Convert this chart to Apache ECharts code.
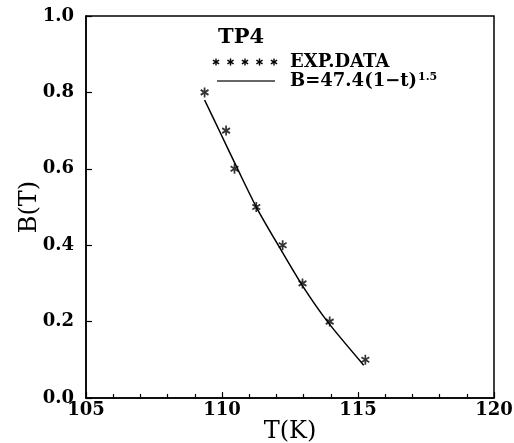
<!DOCTYPE html>
<html>
<head>
<meta charset="utf-8">
<title>TP4 B(T)</title>
<script src="https://cdn.jsdelivr.net/npm/echarts@6/dist/echarts.min.js"></script>
<style>
  html, body { margin: 0; padding: 0; background: #fff; }
  #chart { width: 514px; height: 443px; }
</style>
</head>
<body>
<div id="chart"></div>
<script>
// Experimental points: temperature (K) and field B (T)
const expT = [109.36, 110.15, 110.46, 111.26, 112.23, 112.96, 113.96, 115.27];
const expB = [0.80, 0.70, 0.60, 0.50, 0.40, 0.30, 0.20, 0.10];

// Fitted curve B = 47.4(1-t)^1.5, sampled along its trace
const fitT = [109.36, 109.92, 110.59, 111.29, 112.10, 112.95, 113.90, 115.21];
const fitB = [0.780, 0.697, 0.597, 0.496, 0.396, 0.295, 0.198, 0.086];

// Axis ranges and tick steps
const xRange = [105, 120];
const xStep = 5;
const yRange = [0, 1.0];
const yStep = 0.2;

const SERIF = '"DejaVu Serif", "Liberation Serif", serif';
const STAR = 'M0 -5 L0 5 M-4.33 -2.5 L4.33 2.5 M-4.33 2.5 L4.33 -2.5';

const chart = echarts.init(document.getElementById('chart'), null, { renderer: 'canvas' });

// five small asterisks used as the legend key for the data points
function starGlyph(cx, cy, r) {
  const dx = r * 0.866, dy = r * 0.5;
  const st = { stroke: '#000', lineWidth: 1.4 };
  return {
    type: 'group',
    silent: true,
    children: [
      { type: 'line', shape: { x1: cx, y1: cy - r, x2: cx, y2: cy + r }, style: st },
      { type: 'line', shape: { x1: cx - dx, y1: cy - dy, x2: cx + dx, y2: cy + dy }, style: st },
      { type: 'line', shape: { x1: cx - dx, y1: cy + dy, x2: cx + dx, y2: cy - dy }, style: st }
    ]
  };
}
const legendStars = [216, 230.5, 245, 259.5, 274].map(function (cx) { return starGlyph(cx, 62, 3.6); });

chart.setOption({
  backgroundColor: '#fff',
  animation: false,
  grid: {
    left: 86, right: 20, top: 16, bottom: 45,
    containLabel: false,
    outerBoundsMode: 'none',
    show: true, borderColor: '#000', borderWidth: 1.5, backgroundColor: 'transparent'
  },
  xAxis: {
    type: 'value',
    min: xRange[0], max: xRange[1], interval: xStep,
    name: 'T(K)',
    nameLocation: 'middle',
    nameGap: 22,
    nameMoveOverlap: false,
    nameTextStyle: { fontFamily: SERIF, fontSize: 24, color: '#000', verticalAlign: 'top' },
    axisLine: { show: true, lineStyle: { color: '#000', width: 1.5 } },
    axisTick: { show: true, inside: true, length: 6, lineStyle: { color: '#000', width: 1.2 } },
    minorTick: { show: true, splitNumber: 5, length: 4, lineStyle: { color: '#000', width: 1.2 } },
    splitLine: { show: false },
    axisLabel: { fontFamily: SERIF, fontWeight: 'bold', fontSize: 18, color: '#000', margin: 3 }
  },
  yAxis: {
    type: 'value',
    min: yRange[0], max: yRange[1], interval: yStep,
    name: 'B(T)',
    nameLocation: 'middle',
    nameGap: 44,
    nameMoveOverlap: false,
    nameTextStyle: { fontFamily: SERIF, fontSize: 24, color: '#000' },
    axisLine: { show: true, lineStyle: { color: '#000', width: 1.5 } },
    axisTick: { show: true, inside: true, length: 6, lineStyle: { color: '#000', width: 1.2 } },
    splitLine: { show: false },
    axisLabel: {
      fontFamily: SERIF, fontWeight: 'bold', fontSize: 18, color: '#000', margin: 12,
      formatter: function (v) { return v.toFixed(1); }
    }
  },
  series: [
    {
      name: 'B=47.4(1-t)^1.5',
      type: 'line',
      data: fitT.map(function (t, i) { return [t, fitB[i]]; }),
      smooth: 0.25,
      showSymbol: false,
      lineStyle: { color: '#000', width: 1.5 },
      z: 2
    },
    {
      name: 'EXP.DATA',
      type: 'scatter',
      data: expT.map(function (t, i) { return [t, expB[i]]; }),
      symbol: 'path://' + STAR,
      symbolKeepAspect: true,
      symbolSize: [9, 10],
      itemStyle: { color: 'none', borderColor: '#000', borderWidth: 1.8 },
      z: 3
    }
  ],
  graphic: [
    {
      type: 'text', left: 218, top: 27,
      style: { text: 'TP4', font: 'bold 21px ' + SERIF, fill: '#000' }
    },
    {
      type: 'group',
      children: legendStars
    },
    {
      type: 'text', left: 290, top: 53,
      style: { text: 'EXP.DATA', font: 'bold 18px ' + SERIF, fill: '#000' }
    },
    {
      type: 'line',
      shape: { x1: 217, y1: 81, x2: 275, y2: 81 },
      style: { stroke: '#333', lineWidth: 1.4 }
    },
    {
      type: 'text', left: 290, top: 72,
      style: {
        text: '{m|B=47.4(1\u2212t)}{s|1.5}',
        fill: '#000',
        rich: {
          m: { font: 'bold 18px ' + SERIF, fill: '#000' },
          s: { font: 'bold 11px ' + SERIF, fill: '#000', verticalAlign: 'top', padding: [0, 0, 3, 1] }
        }
      }
    }
  ]
});
</script>
</body>
</html>
